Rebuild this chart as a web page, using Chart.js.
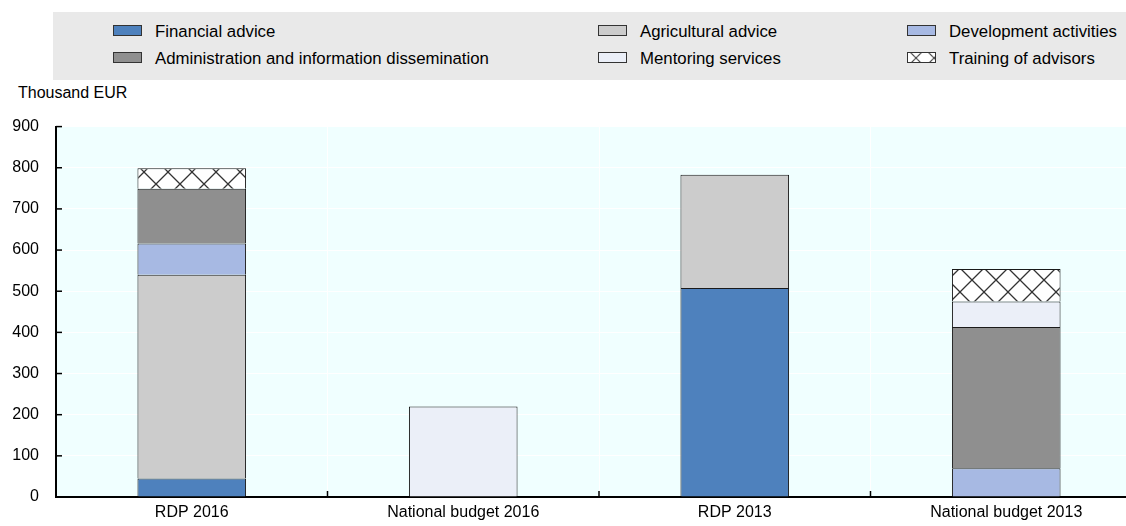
<!DOCTYPE html>
<html>
<head>
<meta charset="utf-8">
<script src="https://cdn.jsdelivr.net/npm/chart.js@4.4.1/dist/chart.umd.min.js"></script>
<style>
  html, body { margin: 0; padding: 0; background: #fff; overflow: hidden; width: 1126px; height: 526px; }
  body { position: relative; font-family: "Liberation Sans", Arial, sans-serif; color: #000; }
  #legend { position: absolute; left: 53px; top: 12px; width: 1073px; height: 68px; background: #e9e9e9; }
  .lg { position: absolute; font-size: 16.8px; line-height: 18px; white-space: nowrap; }
  .sw { position: absolute; box-sizing: border-box; width: 29px; height: 11px; border: 1px solid #333; }
  #ytitle { position: absolute; left: 18px; top: 84px; font-size: 16px; line-height: 18px; }
  #wrap { position: absolute; left: 0; top: 100px; width: 1142px; height: 426px; }
</style>
</head>
<body>
<div id="legend"></div>
<div id="ytitle">Thousand EUR</div>
<div id="wrap"><canvas id="chart"></canvas></div>
<script>
const categories = ['RDP 2016', 'National budget 2016', 'RDP 2013', 'National budget 2013'];
const seriesNames = ['Financial advice', 'Agricultural advice', 'Development activities',
  'Administration and information dissemination', 'Mentoring services', 'Training of advisors'];

// thousand EUR, bottom-to-top stacking order
const financial      = [45, null, 508, null];
const agricultural   = [495, null, 275, null];
const development    = [76, null, null, 70];
const administration = [133, null, null, 343];
const mentoring      = [null, 220, null, 62];
const training       = [50, null, null, 79];

const yTicks = { min: 0, max: 900, step: 100 };

// cross-hatch tile for "Training of advisors"
const HATCH = 24;
const tile = document.createElement('canvas');
tile.width = tile.height = HATCH;
(function () {
  const g = tile.getContext('2d');
  g.fillStyle = '#fff';
  g.fillRect(0, 0, HATCH, HATCH);
  g.strokeStyle = '#333';
  g.lineWidth = 1.3;
  g.beginPath();
  g.moveTo(0, 0); g.lineTo(HATCH, HATCH);
  g.moveTo(HATCH, 0); g.lineTo(0, HATCH);
  g.stroke();
})();
const hatch = tile.getContext('2d').createPattern(tile, 'repeat');

const colors = ['#4e81bd', '#cccccc', '#a7b9e3', '#8f8f8f', '#ebeff8', hatch];
const values = [financial, agricultural, development, administration, mentoring, training];

// ── legend (3 columns x 2 rows) ──
const legendEl = document.getElementById('legend');
const colX = [113, 598, 907];
const rowTop = [25, 52];
seriesNames.forEach((name, si) => {
  const col = si % 3, row = Math.floor(si / 3);
  const sw = document.createElement('div');
  sw.className = 'sw';
  sw.style.left = (colX[col] - 53) + 'px';
  sw.style.top = (rowTop[row] - 12) + 'px';
  if (si === 5) {
    sw.style.backgroundImage = 'url(' + tile.toDataURL() + ')';
    sw.style.backgroundSize = '18px 18px';
    sw.style.backgroundPosition = '-1px -4px';
  } else {
    sw.style.background = colors[si];
  }
  legendEl.appendChild(sw);
  const tx = document.createElement('div');
  tx.className = 'lg';
  tx.textContent = name;
  tx.style.left = (colX[col] + 42 - 53) + 'px';
  tx.style.top = (rowTop[row] - 12 - 2) + 'px';
  legendEl.appendChild(tx);
});

// plot background + inward tick marks
const plotDecor = {
  id: 'plotDecor',
  beforeDraw(chart) {
    const { ctx, chartArea: a } = chart;
    ctx.save();
    ctx.fillStyle = '#f0ffff';
    ctx.fillRect(a.left, a.top, a.right - a.left, a.bottom - a.top);
    ctx.restore();
  },
  afterDraw(chart) {
    const { ctx, chartArea: a, scales: { x, y } } = chart;
    ctx.save();
    ctx.strokeStyle = '#000';
    ctx.lineWidth = 1.5;
    y.ticks.forEach((t, i) => {
      const py = y.getPixelForTick(i);
      ctx.beginPath(); ctx.moveTo(a.left, py); ctx.lineTo(a.left + 6, py); ctx.stroke();
    });
    for (let i = 1; i < x.ticks.length; i++) {
      const px = (x.getPixelForTick(i - 1) + x.getPixelForTick(i)) / 2;
      ctx.beginPath(); ctx.moveTo(px, a.bottom); ctx.lineTo(px, a.bottom - 6); ctx.stroke();
    }
    ctx.restore();
  }
};

new Chart(document.getElementById('chart'), {
  type: 'bar',
  data: {
    labels: categories,
    datasets: seriesNames.map((name, i) => ({
      label: name,
      data: values[i],
      backgroundColor: colors[i],
      borderColor: '#1a1a1a',
      borderWidth: 1,
      categoryPercentage: 1,
      barPercentage: 0.4
    }))
  },
  options: {
    responsive: true,
    maintainAspectRatio: false,
    animation: false,
    layout: { padding: { top: 12.4, left: 0, right: 0, bottom: 0 } },
    plugins: { legend: { display: false }, tooltip: { enabled: false } },
    scales: {
      x: {
        stacked: true,
        afterFit: s => { s.height = 29; },
        grid: { color: '#ffffff', lineWidth: 1, offset: true, drawTicks: false },
        border: { display: true, color: '#000', width: 2 },
        ticks: { color: '#000', padding: 6, font: { family: 'Liberation Sans', size: 16 }, maxRotation: 0 }
      },
      y: {
        stacked: true,
        min: yTicks.min,
        max: yTicks.max,
        afterFit: s => { s.width = 56; },
        grid: { color: '#ffffff', lineWidth: 1, drawTicks: false },
        border: { display: true, color: '#000', width: 2 },
        ticks: { stepSize: yTicks.step, color: '#000', padding: 17, font: { family: 'Liberation Sans', size: 16 } }
      }
    }
  },
  plugins: [plotDecor]
});
</script>
</body>
</html>
